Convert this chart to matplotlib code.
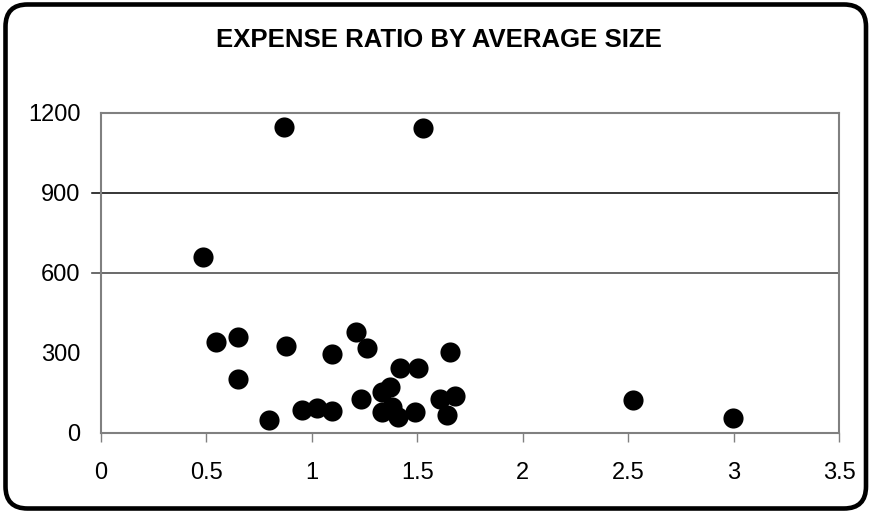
import matplotlib
matplotlib.use("Agg")
import matplotlib.pyplot as plt
from matplotlib.patches import FancyBboxPatch
from matplotlib.transforms import IdentityTransform

# average size vs expense ratio
avgSize = [0.484, 0.545, 0.651, 0.651, 0.798, 0.869, 0.877, 0.956, 1.027, 1.098,
           1.098, 1.209, 1.232, 1.264, 1.332, 1.332, 1.371, 1.380, 1.411, 1.419,
           1.490, 1.505, 1.526, 1.608, 1.643, 1.654, 1.679, 2.524, 2.997]
expenseRatio = [660, 339, 357, 201, 46, 1147, 326, 83, 93, 80,
                296, 377, 124, 318, 153, 78, 171, 97, 59, 241,
                78, 241, 1144, 124, 66, 302, 136, 121, 54]

xTicks = [0, 0.5, 1, 1.5, 2, 2.5, 3, 3.5]
xTickLabels = ["0", "0.5", "1", "1.5", "2", "2.5", "3", "3.5"]
yTicks = [0, 300, 600, 900, 1200]
yTickLabels = ["0", "300", "600", "900", "1200"]

plt.rcParams['font.family'] = ['Liberation Sans', 'DejaVu Sans']

fig = plt.figure(figsize=(8.71, 5.13), dpi=100)
ax = fig.add_axes([0.1154, 0.1569, 0.8482, 0.6234])

ax.scatter(avgSize, expenseRatio, s=210, color='black', linewidths=0, zorder=3)

ax.set_xlim(0, 3.5)
ax.set_ylim(0, 1200)
ax.set_xticks(xTicks)
ax.set_xticklabels(xTickLabels)
ax.set_yticks(yTicks)
ax.set_yticklabels(yTickLabels)

# grid lines only at 900 and 600, sticking out a bit to the left
ax.axhline(900, xmin=-0.011, xmax=1, color='black', lw=1.1, clip_on=False, zorder=1)
ax.axhline(600, xmin=-0.011, xmax=1, color='#505050', lw=1.2, clip_on=False, zorder=1)

for s in ax.spines.values():
    s.set_color('#808080')
    s.set_linewidth(1.5)

ax.tick_params(axis='x', direction='out', length=6.5, width=1, color='#808080',
               pad=14.5, labelsize=17)
ax.tick_params(axis='y', length=0, pad=14.4, labelsize=17)

fig.text(0.504, 0.923, "EXPENSE RATIO BY AVERAGE SIZE", ha='center', va='center',
         fontsize=18.5, fontweight='bold')

# rounded frame around the whole chart
frame = FancyBboxPatch((5.5, 4.5), 860.5, 504, boxstyle="round,pad=0,rounding_size=22",
                       transform=IdentityTransform(), fill=False, edgecolor='black',
                       linewidth=3.3)
fig.add_artist(frame)

fig.savefig("out.png", dpi=100)
